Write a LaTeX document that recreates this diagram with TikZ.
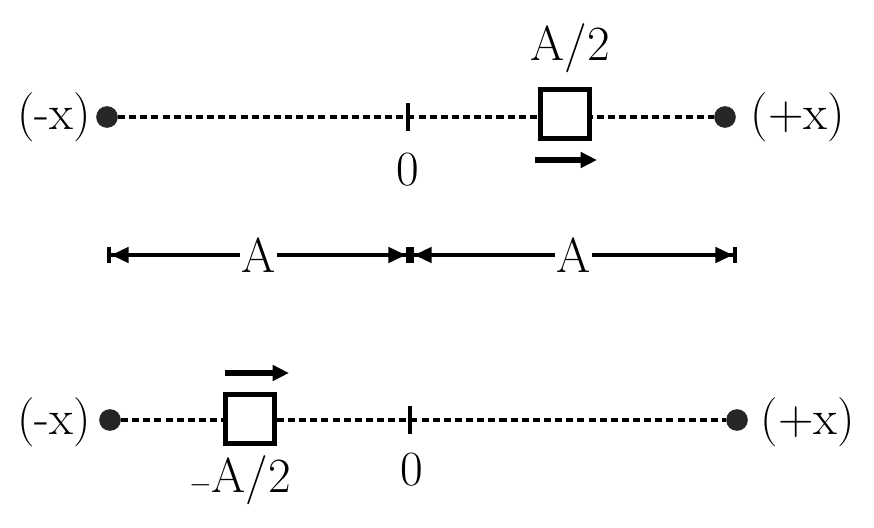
\documentclass[tikz,border=0pt]{standalone}
\usetikzlibrary{arrows.meta}
\begin{document}
\begin{tikzpicture}[x=0.03cm,y=-0.03cm]
        \tikzset{dot/.style={circle,fill=black!85,inner sep=0pt,minimum size=0.65cm},
                 track/.style={line width=3pt,dash pattern=on 6pt off 3.5pt},
                 blk/.style={draw,line width=4pt,minimum size=1.45cm,inner sep=0pt,fill=white},
                 lbl/.style={font=\fontsize{42}{48}\selectfont},
                 move/.style={line width=4.5pt,-{Triangle[length=14pt,width=13pt]}},
                 span/.style={line width=3.5pt,{Bar[width=14pt]Triangle[length=15pt,width=13pt]}-{Triangle[length=15pt,width=13pt]Bar[width=14pt]}}}
        \useasboundingbox (0,0) rectangle (874,527);

        % upper line
        \node (l1)[dot] at (107,117) {};
        \node (r1)[dot] at (725,117) {};
        \draw[track] (l1) -- (r1);
        \draw[line width=3pt] (408,103) -- (408,131);
        \node (b1)[blk] at (565,114) {};
        \node[lbl] at (54,117) {(-x)};
        \node[lbl] at (798,117) {(+x)};
        \node[lbl] at (570,48) {A/2};
        \node[lbl] at (408,170) {0};
        \coordinate (m1s) at (535,160);
        \coordinate (m1e) at (597,160);
        \draw[move] (m1s) -- (m1e);

        % spans
        \coordinate (sa) at (107,255);
        \coordinate (sb) at (410,255);
        \coordinate (sc) at (737,255);
        \draw[span] (sa) -- (sb) node[midway,lbl,fill=white,inner sep=1pt] {A};
        \draw[span] (sb) -- (sc) node[midway,lbl,fill=white,inner sep=1pt] {A};

        % lower line
        \node (l2)[dot] at (110,420) {};
        \node (r2)[dot] at (737,420) {};
        \draw[track] (l2) -- (r2);
        \draw[line width=3pt] (410,406) -- (410,434);
        \node (b2)[blk] at (250,419) {};
        \node[lbl] at (54,422) {(-x)};
        \node[lbl] at (808,422) {(+x)};
        \node[lbl] at (240,480) {$-$A/2};
        \node[lbl] at (412,470) {0};
        \coordinate (m2s) at (225,373);
        \coordinate (m2e) at (289,373);
        \draw[move] (m2s) -- (m2e);
\end{tikzpicture}
\end{document}
